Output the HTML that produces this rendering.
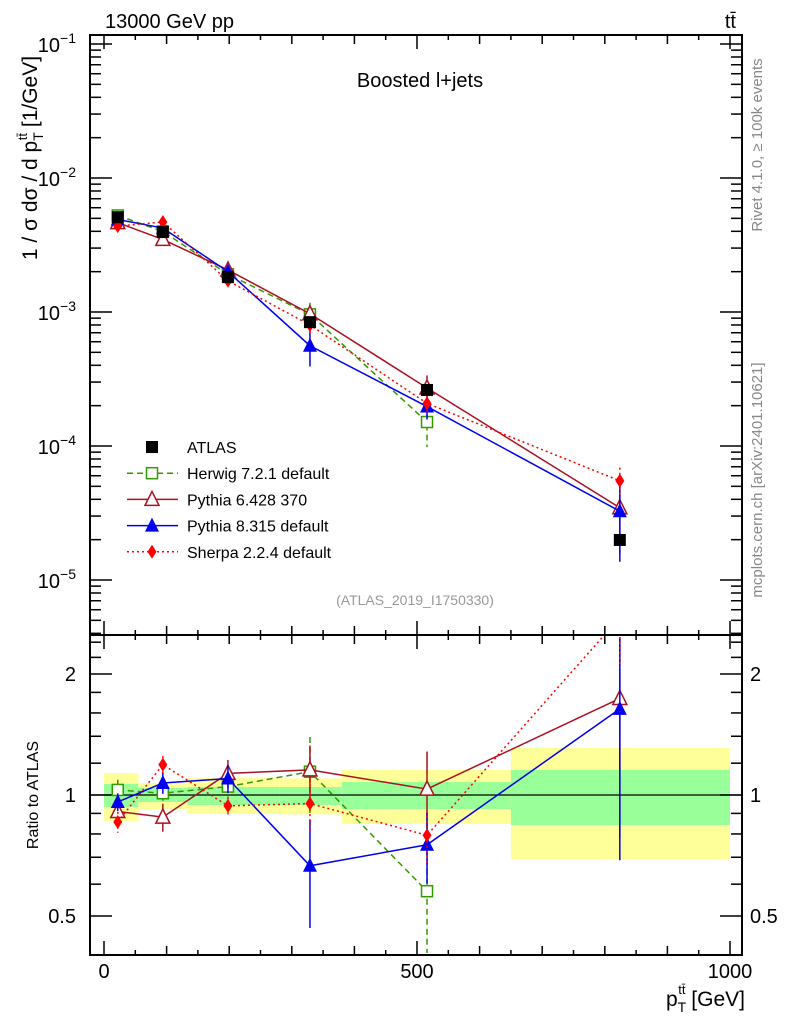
<!DOCTYPE html>
<html><head><meta charset="utf-8"><style>
html,body{margin:0;padding:0;background:#fff;}
svg{display:block;font-family:"Liberation Sans",sans-serif;}
</style></head><body>
<svg id="c" width="786" height="1024" viewBox="0 0 786 1024">
<g id="bands"></g>
<g id="ticks"></g>
<g id="series"></g>
<rect x="90" y="35" width="652" height="600" fill="none" stroke="#000" stroke-width="2"/>
<rect x="90" y="635" width="652" height="320" fill="none" stroke="#000" stroke-width="2"/>
<text x="105" y="28" font-size="20">13000 GeV pp</text>
<text x="736" y="28" font-size="20" text-anchor="end">tt̄</text>
<text x="420" y="87" font-size="20" text-anchor="middle">Boosted l+jets</text>
<text x="415" y="605" font-size="14" fill="#999" text-anchor="middle">(ATLAS_2019_I1750330)</text>
<text transform="translate(762,145) rotate(-90)" font-size="15" fill="#888" text-anchor="middle">Rivet 4.1.0, ≥ 100k events</text>
<text transform="translate(762,480) rotate(-90)" font-size="15" fill="#888" text-anchor="middle">mcplots.cern.ch [arXiv:2401.10621]</text>
<text transform="translate(37,158) rotate(-90)" font-size="21" text-anchor="middle">1 / σ dσ / d p<tspan font-size="14" dy="6">T</tspan><tspan font-size="13" dy="-16" dx="-8">tt̄</tspan><tspan dy="10"> [1/GeV]</tspan></text>
<text transform="translate(38,795) rotate(-90)" font-size="16" text-anchor="middle">Ratio to ATLAS</text>
<text x="745" y="1006" font-size="21" text-anchor="end">p<tspan font-size="14" dy="6">T</tspan><tspan font-size="13" dy="-18" dx="-8">tt̄</tspan><tspan dy="12"> [GeV]</tspan></text>
<g id="legend"></g>
</svg>
<script>
const edges=[0,55,133,280,380,650,1000];
const centers=[22,94,198,329,516,824];
const atlas=[5.1e-3,3.95e-3,1.82e-3,8.4e-4,2.62e-4,1.99e-5];
const yellowLo=[0.862,0.923,0.897,0.895,0.847,0.693];
const yellowHi=[1.134,1.071,1.102,1.10,1.154,1.309];
const greenLo=[0.934,0.961,0.944,0.944,0.923,0.842];
const greenHi=[1.065,1.041,1.047,1.047,1.077,1.154];
const herwig=[5.25e-3,3.99e-3,1.91e-3,9.6e-4,1.51e-4,null];
const herwigErr=[0.06,0.05,0.06,0.22,0.35,0];
const pythia6=[4.64e-3,3.48e-3,2.06e-3,9.7e-4,2.71e-4,3.46e-5];
const pythia6Err=[0.05,0.08,0.08,0.15,0.24,0.55];
const pythia8=[4.9e-3,4.23e-3,2.0e-3,5.6e-4,1.97e-4,3.26e-5];
const pythia8Err=[0.05,0.06,0.08,0.3,0.2,0.58];
const sherpa=[4.37e-3,4.7e-3,1.71e-3,8.0e-4,2.08e-4,5.5e-5];
const sherpaErr=[0.06,0.05,0.05,0.15,0.15,0.25];
const xTicks=[0,500,1000];
const yTicks=[-1,-2,-3,-4,-5];
const rTicks=[0.5,1,2];

const NS="http://www.w3.org/2000/svg";
const X=v=>104+0.626*v;
const Y=v=>178-134*(Math.log10(v)+2);
const R=v=>795-121*Math.log2(v);
const RTOP=637,RBOT=953;
function el(tag,at,parent){const e=document.createElementNS(NS,tag);for(const k in at)e.setAttribute(k,at[k]);parent.appendChild(e);return e;}
const bands=document.getElementById('bands'),ticks=document.getElementById('ticks'),ser=document.getElementById('series'),leg=document.getElementById('legend');

for(let i=0;i<6;i++){
 const x0=X(edges[i]),w=X(edges[i+1])-x0;
 let e=el('rect',{x:x0,y:R(yellowHi[i]),width:w,height:R(yellowLo[i])-R(yellowHi[i]),fill:'#ffff99'},bands);
 
 e=el('rect',{x:x0,y:R(greenHi[i]),width:w,height:R(greenLo[i])-R(greenHi[i]),fill:'#99ff99'},bands);
 
}
el('line',{x1:90,x2:742,y1:R(1),y2:R(1),stroke:'#000','stroke-width':1.3},bands);

// x ticks
for(let v=0;v<=1000;v+=50){
 const big=v%500===0,L=big?14:(v%100===0?9:5),x=X(v);
 el('line',{x1:x,x2:x,y1:35,y2:35+L,stroke:'#000','stroke-width':1.5},ticks);
 el('line',{x1:x,x2:x,y1:635,y2:635-L,stroke:'#000','stroke-width':1.5},ticks);
 el('line',{x1:x,x2:x,y1:955,y2:955-L,stroke:'#000','stroke-width':1.5},ticks);
 el('line',{x1:x,x2:x,y1:635,y2:635+L,stroke:'#000','stroke-width':1.5},ticks);
}
for(const v of xTicks){const t=el('text',{x:X(v),y:978,'font-size':20,'text-anchor':'middle'},ticks);t.textContent=v;
 }
// y main ticks
for(let d=-6;d<=-1;d++){
 for(let m=1;m<10;m++){const v=m*Math.pow(10,d),y=Y(v);if(y<36||y>634)continue;const L=m===1?22:11;
  el('line',{x1:90,x2:90+L,y1:y,y2:y,stroke:'#000','stroke-width':1.5},ticks);
  el('line',{x1:742,x2:742-L,y1:y,y2:y,stroke:'#000','stroke-width':1.5},ticks);}
}
for(const d of yTicks){const t=el('text',{x:76,y:Y(Math.pow(10,d))+8,'font-size':20,'text-anchor':'end'},ticks);
 t.innerHTML='10<tspan font-size="14" dy="-9">−'+(-d)+'</tspan>';
 }
// ratio ticks
const rMinor=[0.4,0.5,0.6,0.7,0.8,0.9,1,1.2,1.4,1.6,1.8,2,2.2,2.4];
for(const v of rMinor){const y=R(v);if(y<RTOP||y>RBOT)continue;const maj=[0.5,1,2].some(q=>Math.abs(q-v)<1e-6);const L=maj?22:11;
 el('line',{x1:90,x2:90+L,y1:y,y2:y,stroke:'#000','stroke-width':1.5},ticks);
 el('line',{x1:742,x2:742-L,y1:y,y2:y,stroke:'#000','stroke-width':1.5},ticks);}
for(const v of rTicks){
 let t=el('text',{x:76,y:R(v)+7,'font-size':20,'text-anchor':'end'},ticks);t.textContent=v;
 
 t=el('text',{x:750,y:R(v)+7,'font-size':20},ticks);t.textContent=v;
 }

function marker(type,x,y,color,g){
 if(type==='sq') return el('rect',{x:x-6,y:y-6,width:12,height:12,fill:color},g);
 if(type==='osq') return el('rect',{x:x-5.5,y:y-5.5,width:11,height:11,fill:'#fff',stroke:color,'stroke-width':1.5},g);
 if(type==='otri') return el('polygon',{points:`${x},${y-8} ${x-7},${y+6} ${x+7},${y+6}`,fill:'#fff',stroke:color,'stroke-width':1.5},g);
 if(type==='tri') return el('polygon',{points:`${x},${y-8} ${x-7},${y+6} ${x+7},${y+6}`,fill:color},g);
 return el('polygon',{points:`${x},${y-7} ${x-4.5},${y} ${x},${y+7} ${x+4.5},${y}`,fill:color},g);
}
const models=[
 {name:'herwig',vals:herwig,err:herwigErr,color:'#339900',dash:'6,4',m:'osq',label:'Herwig 7.2.1 default'},
 {name:'pythia6',vals:pythia6,err:pythia6Err,color:'#aa1122',dash:'',m:'otri',label:'Pythia 6.428 370'},
 {name:'pythia8',vals:pythia8,err:pythia8Err,color:'#0000ee',dash:'',m:'tri',label:'Pythia 8.315 default'},
 {name:'sherpa',vals:sherpa,err:sherpaErr,color:'#ff0000',dash:'2,3',m:'dia',label:'Sherpa 2.2.4 default'}];
const clip=(y,a,b)=>Math.max(a,Math.min(b,y));
for(const md of models){
 const g=el('g',{},ser);
 for(const panel of ['main','ratio']){
  const pts=[];
  md.vals.forEach((v,i)=>{if(v==null)return;const r=panel==='main'?v:v/atlas[i];
   const f=panel==='main'?Y:R;const x=X(centers[i]);const y=f(r);
   const lo=panel==='main'?[36,634]:[RTOP,RBOT];
   pts.push([x,y]);
   const y1=clip(f(r*(1+md.err[i])),lo[0],lo[1]),y2=clip(f(Math.max(r*(1-md.err[i]),1e-9)),lo[0],lo[1]);
   el('line',{x1:x,x2:x,y1:y1,y2:y2,stroke:md.color,'stroke-width':1.5,'stroke-dasharray':md.dash},g);
  });
  let d='';pts.forEach((p,i)=>d+=(i?'L':'M')+p[0]+','+p[1]);
  const cp=el('clipPath',{id:'cp'+md.name+panel},g);
  el('rect',panel==='main'?{x:90,y:35,width:652,height:600}:{x:90,y:636,width:652,height:318},cp);
  el('path',{d:d,fill:'none',stroke:md.color,'stroke-width':1.5,'stroke-dasharray':md.dash,'clip-path':`url(#cp${md.name}${panel})`},g);
  pts.forEach(p=>{if(p[1]>(panel==='main'?35:636)&&p[1]<(panel==='main'?635:954)){const mk=marker(md.m,p[0],p[1],md.color,g);
   }});
 }
}
const ga=el('g',{},ser);
atlas.forEach((v,i)=>{const mk=marker('sq',X(centers[i]),Y(v),'#000',ga);});

// legend
const entries=[{m:'sq',c:'#000',dash:null,label:'ATLAS'}].concat(models.map(m=>({m:m.m,c:m.color,dash:m.dash,label:m.label})));
entries.forEach((e,i)=>{const y=447+i*26.2;const g=el('g',{},leg);
 
 if(e.dash!==null) el('line',{x1:127,x2:178,y1:y,y2:y,stroke:e.c,'stroke-width':1.5,'stroke-dasharray':e.dash},g);
 marker(e.m,152,y,e.c,g);
 const t=el('text',{x:187,y:y+6,'font-size':16},g);t.textContent=e.label;});
</script>
</body></html>
